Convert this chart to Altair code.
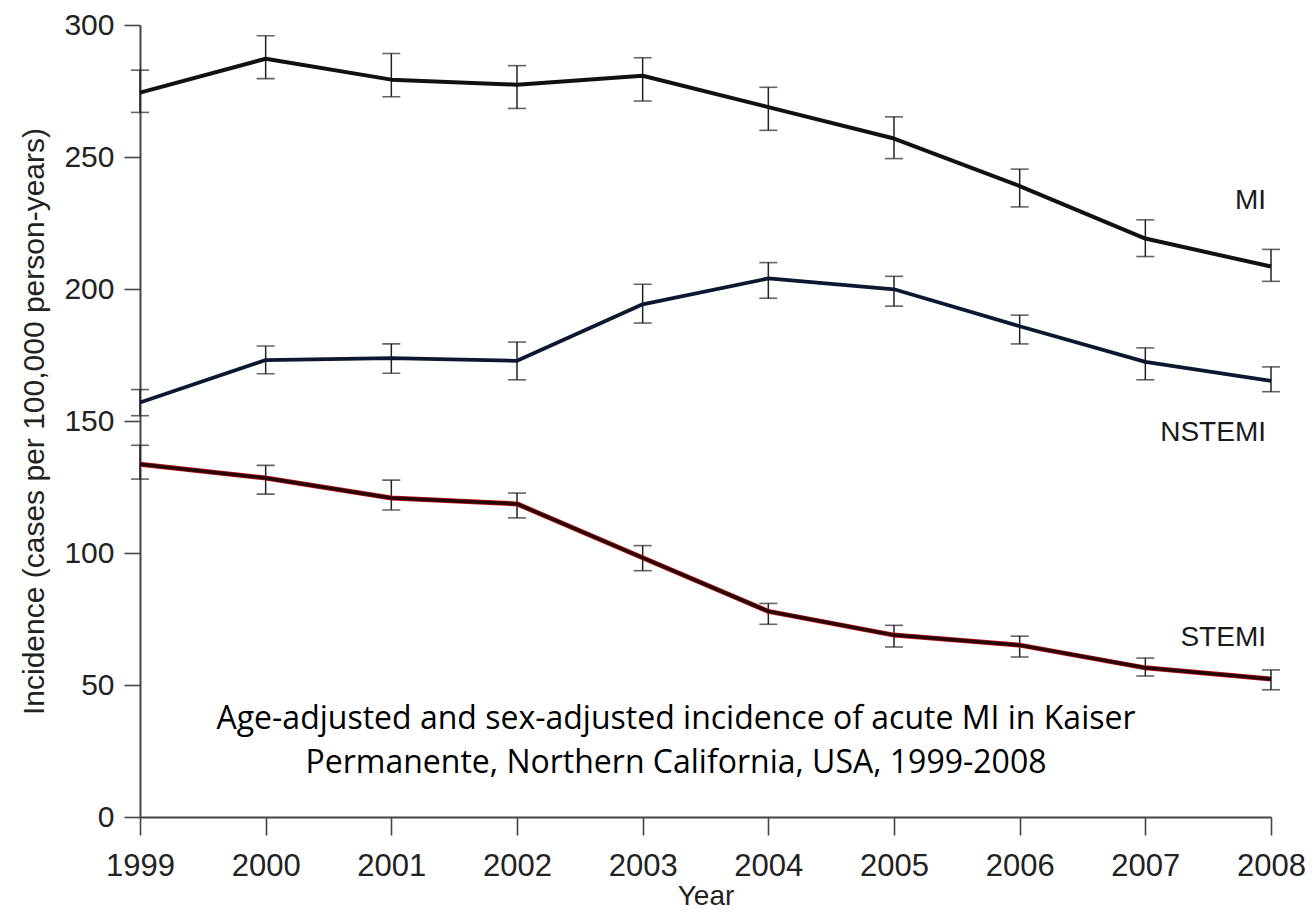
import altair as alt
import pandas as pd

years = [1999, 2000, 2001, 2002, 2003, 2004, 2005, 2006, 2007, 2008]

mi = [274.4, 287.2, 279.3, 277.4, 280.8, 268.9, 257.0, 239.0, 219.1, 208.5]
mi_lo = [266.9, 279.7, 272.8, 268.4, 271.2, 260.1, 249.4, 231.1, 212.3, 202.9]
mi_hi = [282.9, 295.9, 289.2, 284.6, 287.6, 276.4, 265.2, 245.4, 226.2, 215.0]

nstemi = [157.0, 173.1, 173.8, 172.8, 194.2, 204.0, 199.9, 185.9, 172.4, 165.2]
nstemi_lo = [152.0, 167.9, 168.1, 165.6, 187.1, 196.5, 193.5, 179.2, 165.6, 161.1]
nstemi_hi = [161.9, 178.4, 179.2, 179.9, 201.8, 210.0, 204.8, 190.1, 177.7, 170.5]

stemi = [133.6, 128.4, 120.8, 118.6, 98.2, 77.9, 68.9, 65.1, 56.5, 52.3]
stemi_lo = [128.0, 122.3, 116.3, 113.3, 93.3, 73.0, 64.4, 60.6, 53.4, 48.2]
stemi_hi = [140.8, 133.2, 127.6, 122.7, 102.8, 80.9, 72.6, 68.5, 60.2, 55.7]

series_names = ["MI", "NSTEMI", "STEMI"]
series_colors = ["#111111", "#0b1830", "#2a0505"]
y_ticks = [0, 50, 100, 150, 200, 250, 300]
caption = ["Age-adjusted and sex-adjusted incidence of acute MI in Kaiser",
           "Permanente, Northern California, USA, 1999-2008"]

rows = []
for name, v, lo, hi in [("MI", mi, mi_lo, mi_hi),
                        ("NSTEMI", nstemi, nstemi_lo, nstemi_hi),
                        ("STEMI", stemi, stemi_lo, stemi_hi)]:
    for yr, a, b, c in zip(years, v, lo, hi):
        rows.append({"year": yr, "series": name, "value": a, "lo": b, "hi": c})
df = pd.DataFrame(rows)

x_enc = alt.X("year:Q", scale=alt.Scale(domain=[1999, 2008], nice=False, zero=False),
              axis=alt.Axis(values=years, format="d", title="Year", tickSize=18,
                            labelPadding=16, labelFontSize=31, labelFont="Liberation Sans",
                            titleFontSize=28, titleFont="Liberation Sans", titleFontWeight="normal",
                            titleY=87, titleBaseline="alphabetic",
                            labelFlush=False, labelOverlap=False))
y_enc = alt.Y("value:Q", scale=alt.Scale(domain=[0, 300], nice=False),
              axis=alt.Axis(values=y_ticks, title="Incidence (cases per 100,000 person-years)",
                            tickSize=16, labelPadding=10, labelFontSize=30,
                            labelFont="Liberation Sans", titleFontSize=30,
                            titleFont="Liberation Sans", titleFontWeight="normal",
                            titleX=-97, titleBaseline="alphabetic"))

base = alt.Chart(df)

color_scale = alt.Scale(domain=series_names, range=series_colors)

err_rule = base.mark_rule(color="#222222", strokeWidth=1.5).encode(
    x=x_enc, y=alt.Y("lo:Q"), y2="hi:Q")
err_lo = base.mark_tick(orient="horizontal", color="#222222", size=18, thickness=1.6).encode(
    x=x_enc, y=alt.Y("lo:Q"))
err_hi = base.mark_tick(orient="horizontal", color="#222222", size=18, thickness=1.6).encode(
    x=x_enc, y=alt.Y("hi:Q"))

stemi_glow = base.transform_filter(alt.datum.series == "STEMI").mark_line(
    color="#c01818", strokeWidth=5, strokeJoin="round").encode(x=x_enc, y=y_enc)

lines = base.mark_line(strokeJoin="round").encode(
    x=x_enc, y=y_enc,
    color=alt.Color("series:N", scale=color_scale, legend=None),
    strokeWidth=alt.StrokeWidth("series:N", scale=alt.Scale(domain=series_names, range=[4, 3.5, 2.4]),
                                legend=None),
    detail="series:N")

def label(name, dy):
    return base.transform_filter(
        (alt.datum.series == name) & (alt.datum.year == 2008)
    ).mark_text(align="right", baseline="middle", dx=-5, dy=dy, fontSize=28,
                font="Liberation Sans", color="#1a1a1a").encode(
        x=x_enc, y=y_enc, text="series:N")

labels = label("MI", -66) + label("NSTEMI", 52) + label("STEMI", -41)

cap = alt.Chart(pd.DataFrame({"t": [0]})).mark_text(
    text=caption, align="center", baseline="alphabetic", font="Open Sans",
    fontSize=32, lineHeight=44, color="#000000").encode(
    x=alt.value(536), y=alt.value(704))

chart = alt.layer(err_rule, err_lo, err_hi, stemi_glow, lines, labels, cap).properties(
    width=1131, height=792,
    autosize=alt.AutoSizeParams(type="none"),
    padding={"left": 132, "top": 17, "right": 35, "bottom": 95},
).configure_view(stroke=None).configure_axis(
    grid=False, domainColor="#444444", domainWidth=2, tickColor="#444444", tickWidth=1.6,
    labelColor="#222222", titleColor="#222222")

chart.save("out.html", embed_options={"renderer": "svg", "actions": False})
